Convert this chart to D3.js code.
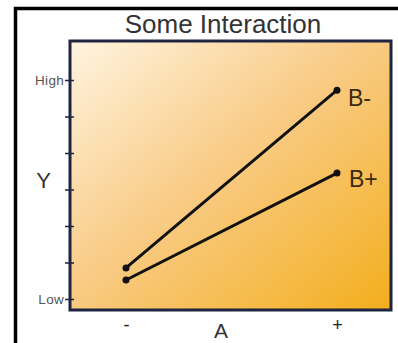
<!DOCTYPE html>
<html>
<head>
<meta charset="utf-8">
<script src="https://cdn.jsdelivr.net/npm/d3@7"></script>
<style>
  html, body { margin: 0; padding: 0; background: #fff; }
  svg { display: block; font-family: "Liberation Sans", Arial, sans-serif; }
</style>
</head>
<body>
<svg id="chart" width="398" height="343"></svg>
<script>
// Factor A levels on the x axis
const levelsA = ["-", "+"];
// Series (levels of factor B) and their Y values at A- and A+
const seriesNames = ["B-", "B+"];
const seriesBminus = [0.85, 5.72];
const seriesBplus = [0.52, 3.45];
// Y axis ticks, only the ends are labelled
const yTicks = [0, 1, 2, 3, 4, 5, 6];
const yTickLabels = ["Low", "", "", "", "", "", "High"];

const svg = d3.select("#chart");
const W = 398, H = 343;
const plot = { left: 70, top: 41, right: 391, bottom: 310 };

// Outer frame running off the right and bottom edges
svg.append("path")
  .attr("d", `M15.5,${H + 5}V8.5H${W + 5}`)
  .attr("fill", "none").attr("stroke", "#000").attr("stroke-width", 3.5);

// Background gradient of the plot area
const defs = svg.append("defs");
const grad = defs.append("linearGradient").attr("id", "bg")
  .attr("x1", "0%").attr("y1", "0%").attr("x2", "100%").attr("y2", "100%");
grad.append("stop").attr("offset", "0%").attr("stop-color", "#fff4e0");
grad.append("stop").attr("offset", "45%").attr("stop-color", "#f9cc88");
grad.append("stop").attr("offset", "100%").attr("stop-color", "#f3ae1c");

svg.append("rect")
  .attr("x", plot.left).attr("y", plot.top)
  .attr("width", plot.right - plot.left).attr("height", plot.bottom - plot.top)
  .attr("fill", "url(#bg)")
  .attr("stroke", "#1f2540").attr("stroke-width", 3);

// Scales
const x = d3.scalePoint().domain(levelsA).range([126, 337]);
const y = d3.scaleLinear().domain([0, 6]).range([299, 80]);

// Y axis with ticks crossing the frame
const yAxis = d3.axisLeft(y).tickValues(yTicks)
  .tickSize(0).tickPadding(6)
  .tickFormat((d, i) => yTickLabels[i]);
const gy = svg.append("g").attr("transform", `translate(${plot.left},0)`).call(yAxis);
gy.select(".domain").remove();
gy.selectAll(".tick text").attr("fill", "#555").attr("font-size", 13.5)
  .attr("letter-spacing", 0.3);
gy.selectAll(".tick").append("line")
  .attr("x1", -5).attr("x2", 4)
  .attr("stroke", "#1f2540").attr("stroke-width", 1.5);

// X axis labels
const xAxis = d3.axisBottom(x).tickSize(0).tickPadding(8);
const gx = svg.append("g").attr("transform", `translate(0,${plot.bottom})`).call(xAxis);
gx.select(".domain").remove();
gx.selectAll(".tick text").attr("fill", "#222").attr("font-size", 18);

// Titles
svg.append("text").attr("x", 223).attr("y", 33).attr("text-anchor", "middle")
  .attr("font-size", 26).attr("fill", "#333").text("Some Interaction");
svg.append("text").attr("x", 43.5).attr("y", 188).attr("text-anchor", "middle")
  .attr("font-size", 22).attr("fill", "#333").text("Y");
svg.append("text").attr("x", 221).attr("y", 338).attr("text-anchor", "middle")
  .attr("font-size", 21).attr("fill", "#333").text("A");

// Lines and points
const series = [
  { name: seriesNames[0], values: seriesBminus, dx: 11, dy: 16 },
  { name: seriesNames[1], values: seriesBplus, dx: 12, dy: 14 }
];
const line = d3.line().x((d, i) => x(levelsA[i])).y(d => y(d));
const g = svg.append("g");
series.forEach(s => {
  g.append("path").attr("d", line(s.values))
    .attr("fill", "none").attr("stroke", "#111").attr("stroke-width", 3);
  s.values.forEach((v, i) => {
    g.append("circle").attr("cx", x(levelsA[i])).attr("cy", y(v))
      .attr("r", 3.5).attr("fill", "#111");
  });
  g.append("text")
    .attr("x", x(levelsA[1]) + s.dx).attr("y", y(s.values[1]) + s.dy)
    .attr("font-size", 23).attr("fill", "#3a2a10").text(s.name);
});
</script>
</body>
</html>
